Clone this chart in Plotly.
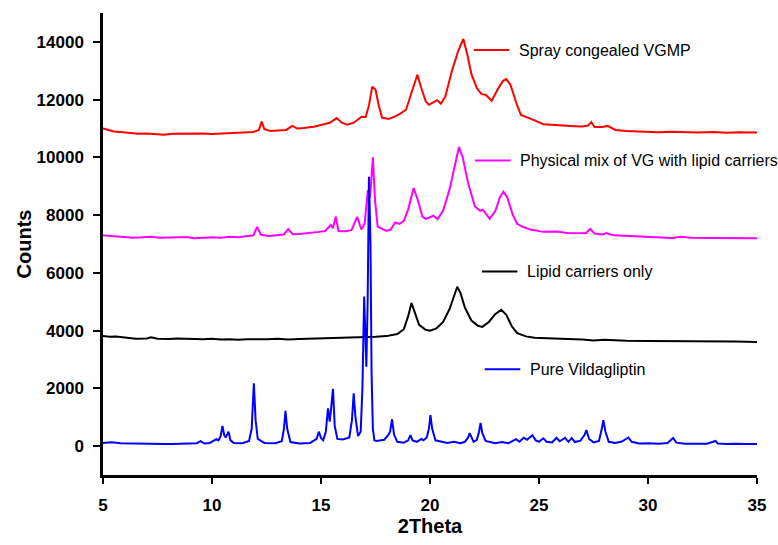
import plotly.graph_objects as go

# ---------------- data (2Theta, Counts) ----------------
red_pts = [(5.0,11000),(5.2,10950),(5.5,10900),(5.8,10880),(6.2,10840),(6.6,10820),(7.0,10830),(7.4,10800),
           (7.8,10780),(8.2,10820),(8.6,10830),(9.0,10820),(9.5,10830),(10.0,10810),(10.5,10830),(11.0,10850),
           (11.5,10870),(11.9,10880),(12.15,10950),(12.28,11240),(12.4,10980),(12.7,10910),(13.0,10930),
           (13.4,10950),(13.69,11090),(13.9,11000),(14.2,11020),(14.67,11060),(15.0,11120),(15.4,11200),
           (15.72,11360),(15.95,11200),(16.2,11130),(16.5,11200),(16.86,11410),(17.05,11400),(17.2,11800),
           (17.35,12450),(17.5,12350),(17.65,11800),(17.8,11380),(18.1,11330),(18.4,11420),(18.6,11500),
           (18.9,11650),(19.15,12200),(19.42,12860),(19.6,12400),(19.8,11950),(19.95,11820),(20.15,11900),
           (20.33,11980),(20.5,11860),(20.7,12100),(21.0,12980),(21.3,13700),(21.53,14100),(21.7,13600),
           (21.9,12880),(22.15,12400),(22.36,12190),(22.55,12170),(22.83,11960),(23.1,12350),(23.35,12650),
           (23.5,12710),(23.7,12500),(23.95,11900),(24.17,11470),(24.4,11410),(24.8,11280),(25.2,11150),
           (25.6,11120),(26.1,11100),(26.6,11080),(27.0,11070),(27.25,11100),(27.4,11220),(27.55,11050),
           (27.9,11050),(28.15,11090),(28.5,10950),(29.0,10910),(29.5,10900),(30.0,10890),(30.5,10870),
           (31.1,10890),(31.7,10870),(32.3,10860),(33.0,10880),(33.6,10850),(34.2,10870),(35.0,10860)]

magenta_pts = [(5.0,7300),(5.3,7290),(5.6,7260),(6.0,7240),(6.4,7220),(6.8,7230),(7.2,7250),(7.6,7220),
               (8.0,7230),(8.4,7220),(8.8,7240),(9.2,7200),(9.6,7220),(10.0,7230),(10.4,7220),(10.8,7250),
               (11.2,7230),(11.6,7260),(11.9,7300),(12.07,7590),(12.25,7320),(12.6,7280),(13.0,7300),
               (13.3,7330),(13.5,7520),(13.7,7340),(14.0,7350),(14.5,7380),(14.9,7420),(15.2,7450),
               (15.45,7660),(15.55,7550),(15.68,7950),(15.8,7450),(16.1,7440),(16.4,7480),(16.66,7940),
               (16.85,7500),(17.0,7700),(17.15,8870),(17.25,8600),(17.38,10000),(17.48,8500),(17.6,7600),
               (18.0,7450),(18.2,7500),(18.4,7750),(18.6,7700),(18.8,7800),(19.0,8200),(19.25,8940),
               (19.45,8500),(19.65,7950),(19.8,7870),(20.16,7980),(20.35,7860),(20.6,8150),(20.9,8900),
               (21.15,9800),(21.33,10360),(21.5,10000),(21.75,9100),(22.06,8300),(22.3,8150),(22.42,8190),
               (22.74,7870),(23.0,8150),(23.2,8600),(23.37,8810),(23.55,8600),(23.8,8000),(24.0,7700),
               (24.23,7600),(24.6,7500),(25.2,7420),(25.8,7430),(26.3,7380),(26.8,7360),(27.15,7370),
               (27.35,7520),(27.55,7360),(27.9,7330),(28.1,7380),(28.4,7300),(29.0,7280),(29.6,7260),
               (30.2,7250),(31.1,7210),(31.5,7250),(32.0,7220),(33.0,7210),(34.0,7200),(35.0,7200)]

black_pts = [(5.0,3810),(5.3,3790),(5.6,3800),(6.0,3760),(6.5,3720),(7.0,3730),(7.2,3770),(7.5,3720),
             (8.0,3710),(8.4,3730),(8.8,3720),(9.2,3690),(9.6,3700),(10.0,3720),(10.4,3690),(10.8,3700),
             (11.2,3680),(11.6,3700),(12.0,3690),(12.5,3700),(13.0,3720),(13.5,3690),(14.0,3710),
             (14.5,3720),(15.0,3730),(15.5,3740),(16.0,3740),(16.5,3760),(17.0,3780),(17.5,3790),
             (18.0,3810),(18.5,3880),(18.8,4050),(19.0,4500),(19.15,4960),(19.3,4600),(19.5,4200),
             (19.8,4030),(20.0,4000),(20.3,4080),(20.6,4300),(20.9,4750),(21.1,5200),(21.25,5520),
             (21.4,5300),(21.6,4800),(21.9,4350),(22.2,4170),(22.4,4130),(22.7,4300),(23.0,4580),
             (23.27,4720),(23.5,4550),(23.75,4150),(24.0,3910),(24.4,3800),(24.8,3750),(25.5,3740),
             (26.0,3720),(27.0,3690),(27.5,3660),(28.0,3680),(28.5,3660),(29.0,3650),(30.0,3640),
             (31.0,3640),(32.0,3630),(33.0,3620),(34.0,3620),(35.0,3610)]

blue_pts = [(5.0,110),(5.4,130),(5.8,100),(6.2,90),(6.6,80),(7.0,75),(7.4,85),(7.8,70),(8.2,75),(8.6,80),
            (9.0,90),(9.3,100),(9.48,170),(9.65,90),(9.9,110),(10.1,180),(10.2,240),(10.3,200),(10.4,350),
            (10.48,700),(10.56,380),(10.63,300),(10.7,430),(10.76,500),(10.85,200),(11.0,110),(11.4,100),
            (11.7,180),(11.82,600),(11.92,2180),(12.0,900),(12.1,250),(12.4,110),(12.9,100),(13.2,170),
            (13.3,600),(13.37,1220),(13.45,600),(13.6,140),(14.0,90),(14.5,110),(14.8,250),(14.9,500),
            (15.0,280),(15.1,200),(15.22,500),(15.32,1310),(15.4,850),(15.45,1200),(15.55,1980),(15.63,700),
            (15.75,250),(16.0,230),(16.3,300),(16.42,900),(16.5,1830),(16.58,1000),(16.7,350),(16.82,500),
            (16.9,2000),(16.98,5180),(17.04,4000),(17.08,2750),(17.14,5000),(17.2,9330),(17.27,7000),
            (17.32,2500),(17.38,600),(17.45,200),(17.53,180),(17.7,190),(17.9,220),(18.08,380),(18.17,500),
            (18.26,930),(18.35,400),(18.5,150),(18.8,120),(19.0,200),(19.1,380),(19.2,200),(19.4,150),
            (19.6,250),(19.7,200),(19.85,300),(19.95,600),(20.02,1075),(20.1,600),(20.25,200),(20.5,170),
            (20.8,110),(21.1,150),(21.4,100),(21.6,150),(21.75,300),(21.82,450),(21.9,300),(22.0,150),
            (22.15,220),(22.25,500),(22.32,800),(22.4,450),(22.55,180),(22.8,130),(23.0,100),(23.3,140),
            (23.6,100),(23.95,240),(24.1,150),(24.3,290),(24.45,220),(24.7,380),(24.85,200),(25.0,150),
            (25.2,270),(25.35,150),(25.6,130),(25.8,290),(25.95,170),(26.2,290),(26.35,150),(26.5,280),
            (26.65,140),(26.9,190),(27.1,400),(27.17,560),(27.3,250),(27.5,130),(27.75,180),(27.88,600),
            (27.95,900),(28.05,500),(28.2,150),(28.5,110),(28.8,160),(29.1,300),(29.25,150),(29.6,90),
            (30.0,100),(30.5,80),(30.9,110),(31.15,280),(31.3,120),(31.7,80),(32.2,90),(32.7,80),
            (33.1,180),(33.2,90),(33.6,75),(34.0,85),(34.5,70),(35.0,70)]

series_names = ["Spray congealed VGMP", "Physical mix of VG with lipid carriers",
                "Lipid carriers only", "Pure Vildagliptin"]
series_colors = ["#FF0000", "#FF00FF", "#000000", "#0000FF"]
series_pts = [red_pts, magenta_pts, black_pts, blue_pts]

# legend label anchors (x of line start, line end, y level) in data units
label_line_x0 = [22.01, 22.06, 22.38, 22.51]
label_line_x1 = [23.64, 23.69, 24.01, 24.14]
label_y = [13717, 9890, 6048, 2661]

x_ticks = [5, 10, 15, 20, 25, 30, 35]
y_ticks = [0, 2000, 4000, 6000, 8000, 10000, 12000, 14000]

fig = go.Figure()
for name, color, pts in zip(series_names, series_colors, series_pts):
    xs, ys = zip(*pts)
    fig.add_trace(go.Scatter(x=list(xs), y=list(ys), mode="lines", name=name,
                             line=dict(color=color, width=2), showlegend=False))

for name, color, x0, x1, y in zip(series_names, series_colors, label_line_x0, label_line_x1, label_y):
    fig.add_shape(type="line", x0=x0, x1=x1, y0=y, y1=y, xref="x", yref="y",
                  line=dict(color=color, width=2))
    fig.add_annotation(x=x1 + 0.35, y=y, text=name, showarrow=False, xanchor="left", yanchor="middle",
                       xref="x", yref="y", font=dict(family="Liberation Sans, Arial", size=16, color="#000"))

axis_font = dict(family="Liberation Sans, Arial", size=17, color="#000", weight="bold")
title_font = dict(family="Liberation Sans, Arial", size=20, color="#000", weight="bold")
fig.update_layout(
    width=778, height=545,
    margin=dict(l=103, r=12, t=13, b=70),
    paper_bgcolor="white", plot_bgcolor="white",
    xaxis=dict(range=[5, 35], tickvals=x_ticks, ticktext=[str(v) for v in x_ticks],
               ticks="outside", ticklen=6, tickwidth=2, tickcolor="#000", ticklabelstandoff=7,
               showline=True, linecolor="#000", linewidth=2.5, showgrid=False, zeroline=False,
               tickfont=axis_font,
               title=dict(text="2Theta", standoff=4, font=title_font)),
    yaxis=dict(range=[-1000, 15000], tickvals=y_ticks, ticktext=[str(v) for v in y_ticks],
               ticks="outside", ticklen=7, tickwidth=2, tickcolor="#000", ticklabelstandoff=6,
               showline=True, linecolor="#000", linewidth=2.5, showgrid=False,
               zeroline=False, tickfont=axis_font,
               title=dict(text="Counts", standoff=0, font=title_font)),
)

fig.write_html("out.html")
